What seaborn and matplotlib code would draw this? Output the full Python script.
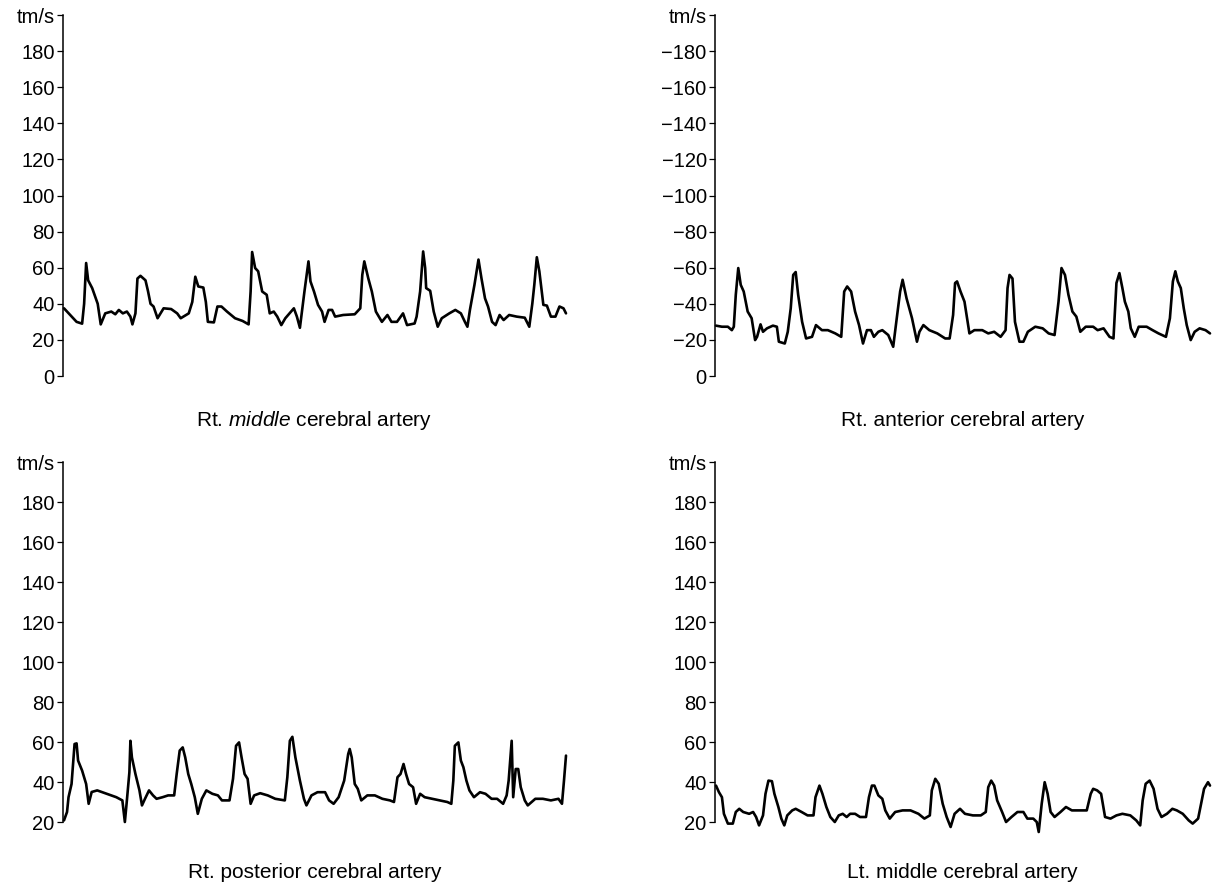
import matplotlib
matplotlib.use("Agg")
import matplotlib.pyplot as plt
import seaborn as sns

# Transcranial Doppler traces, time in % of sweep, velocity in cm/s
rt_mca_t = [0.2, 2.7, 3.8, 4.2, 4.6, 5.0, 5.8, 6.9, 7.5, 8.4,
            9.6, 10.4, 11.1, 11.9, 12.7, 13.4, 13.8, 14.4, 14.8, 15.4,
            16.4, 16.9, 17.4, 18.0, 18.8, 20.0, 21.5, 22.7, 23.4, 25.0,
            25.7, 26.3, 26.9, 27.9, 28.4, 28.8, 30.0, 30.7, 31.5, 32.6,
            34.2, 35.7, 36.9, 37.3, 37.6, 38.2, 38.8, 39.6, 40.5, 41.1,
            41.9, 42.6, 43.4, 44.2, 45.9, 46.5, 47.1, 48.0, 48.8, 49.2,
            49.9, 50.7, 51.5, 52.0, 52.8, 53.5, 54.1, 55.7, 58.0, 59.1,
            59.5, 59.9, 60.7, 61.4, 62.2, 63.4, 64.5, 65.3, 66.4, 67.6,
            68.4, 69.9, 70.3, 71.0, 71.6, 72.0, 72.2, 73.0, 73.7, 74.5,
            75.3, 76.8, 78.0, 79.1, 79.9, 80.4, 80.9, 81.8, 82.6, 83.2,
            83.9, 84.5, 85.3, 86.0, 86.8, 87.6, 88.7, 90.2, 91.8, 92.7,
            93.3, 93.7, 94.2, 94.7, 95.5, 96.2, 97.0, 97.9, 98.7, 99.5, 100.0]
rt_mca_v = [37.5, 30, 29, 40, 62.6, 53, 48.7, 40, 28.6, 34.7,
            35.7, 34.2, 36.6, 34.7, 35.7, 32.9, 28.6, 34.7, 54, 55.5,
            53, 47, 40, 38.5, 32, 37.5, 37.1, 34.7, 32, 34.7,
            41, 55, 49.6, 49, 41, 30, 29.7, 38.5, 38.5, 35.7,
            32, 30.5, 28.6, 46.8, 68.7, 59.8, 58, 46.8, 45, 34.7,
            35.7, 32.9, 28.2, 32, 37.5, 32.9, 26.7, 46.8, 63.5, 52.4,
            46.8, 39.4, 35.7, 30, 36.6, 36.6, 32.9, 33.8, 34.2, 37.5,
            56, 63.5, 54, 46.8, 35.7, 30, 33.8, 30, 30, 34.7,
            28.2, 29.1, 32.9, 46.8, 69, 59.8, 48.7, 47.2, 35.7, 27.3,
            32, 34.7, 36.6, 34.7, 30, 27.3, 36.6, 50.5, 64.5, 54,
            43, 38.5, 30, 28.2, 33.8, 31, 33.8, 32.9, 32.3, 27.3,
            40, 50.5, 65.8, 58, 39.4, 39, 32.9, 32.9, 38.5, 37.5, 34.7]

rt_aca_t = [0.2, 1.4, 2.6, 3.4, 3.8, 4.2, 4.7, 5.2, 5.8, 6.6,
            7.4, 8.1, 8.5, 9.2, 9.7, 10.5, 11.7, 12.5, 12.9, 14.1,
            14.7, 15.3, 15.8, 16.3, 16.8, 17.6, 18.4, 19.6, 20.4, 21.6,
            22.8, 24.3, 25.5, 26.1, 26.7, 27.5, 28.3, 29.1, 29.9, 30.7,
            31.5, 32.1, 33.0, 33.8, 35.0, 36.0, 36.8, 37.4, 37.9, 38.7,
            39.8, 40.8, 41.3, 42.1, 43.3, 44.9, 46.5, 47.4, 48.1, 48.5,
            48.9, 49.6, 50.4, 51.4, 52.4, 54.0, 55.2, 56.4, 57.7, 58.7,
            59.1, 59.5, 60.1, 60.6, 61.5, 62.3, 63.2, 64.7, 66.2, 67.4,
            68.6, 69.4, 70.0, 70.7, 71.4, 72.2, 73.0, 73.8, 74.9, 76.4,
            77.3, 78.5, 79.7, 80.5, 81.1, 81.7, 82.3, 82.8, 83.5, 84.0,
            84.8, 85.6, 87.2, 88.4, 89.6, 91.1, 91.9, 92.5, 93.0, 93.5,
            94.1, 94.7, 95.3, 96.1, 96.9, 97.9, 99.1, 100.0]
rt_aca_v = [-27.9, -27.3, -27.3, -25.4, -27.3, -45, -59.8, -50.5, -46.8, -35.7,
            -32, -19.9, -21.7, -28.6, -24.5, -26.4, -27.9, -27.3, -19, -18,
            -24.5, -37.5, -56, -57.6, -45, -30, -20.8, -21.7, -28.2, -25.4,
            -25.4, -23.6, -21.7, -46.8, -49.6, -46.8, -35.7, -28.2, -18, -25.4,
            -25.4, -21.7, -24.5, -25.4, -22.7, -16.2, -33.8, -46.8, -53.3, -43,
            -32, -19, -24.5, -28.2, -25.4, -23.6, -20.8, -20.8, -33.8, -51.5,
            -52.4, -46.8, -41.2, -23.6, -25.4, -25.4, -23.6, -24.5, -21.7, -25.4,
            -48.7, -56, -54, -30, -19, -19, -24.5, -27.3, -26.4, -23.6,
            -22.7, -41.2, -59.8, -56, -45, -35.7, -32.9, -24.5, -27.3, -27.3,
            -25.4, -26.4, -21.7, -20.8, -51.5, -57, -48.7, -41.2, -35.7, -26.4,
            -21.7, -27.3, -27.3, -25.4, -23.6, -21.7, -32, -52.4, -58, -52.4,
            -48.7, -37.5, -28.2, -19.9, -24.5, -26.4, -25.4, -23.6]

rt_pca_t = [0.2, 0.8, 1.1, 1.7, 2.3, 2.7, 3.0, 3.8, 4.6, 5.1,
            5.7, 6.8, 8.7, 10.6, 11.8, 12.3, 12.7, 13.2, 13.4, 13.7,
            14.4, 15.2, 15.7, 16.3, 17.1, 17.9, 18.6, 19.8, 20.9, 22.1,
            22.6, 23.2, 23.8, 24.3, 24.9, 25.5, 26.2, 26.8, 27.6, 28.5,
            29.7, 30.8, 31.6, 33.1, 33.8, 34.4, 35.0, 35.5, 36.1, 36.7,
            37.3, 38.0, 39.2, 40.7, 42.2, 44.1, 44.6, 45.1, 45.6, 46.2,
            47.1, 47.9, 48.4, 49.4, 50.6, 52.1, 52.9, 53.8, 54.8, 55.9,
            56.7, 57.0, 57.4, 58.0, 58.6, 59.3, 60.5, 62.0, 63.5, 65.0,
            65.8, 66.5, 67.1, 67.7, 68.2, 68.8, 69.6, 70.2, 71.0, 71.9,
            73.4, 74.9, 76.4, 77.2, 77.6, 77.9, 78.6, 79.1, 79.6, 80.2,
            80.8, 81.7, 82.9, 84.0, 85.2, 86.3, 87.5, 88.2, 88.6, 89.2,
            89.5, 90.0, 90.5, 91.0, 91.8, 92.4, 93.9, 95.4, 97.0, 98.5,
            99.2, 99.6, 100.0]
rt_pca_v = [20.8, 25, 32.4, 39, 59, 59.3, 50.7, 45.7, 39, 29.1,
            35, 35.8, 34.1, 32.4, 30.8, 20, 30.8, 44.9, 60.6, 52.3,
            44, 35.8, 28.3, 31.6, 35.8, 33.3, 31.6, 32.4, 33.3, 33.3,
            44, 55.7, 57.3, 52.3, 44, 39, 32.4, 24.1, 31.6, 35.8,
            34.1, 33.3, 30.8, 30.8, 41.6, 58.1, 59.8, 52.3, 44, 41.6,
            29.1, 33.3, 34.4, 33.3, 31.6, 30.8, 42.4, 60.6, 62.6, 52.3,
            40.7, 31.6, 28.3, 33.3, 34.9, 34.9, 30.8, 29.1, 32.4, 40.7,
            54, 56.5, 52.3, 39, 36.6, 30.8, 33.3, 33.3, 31.6, 30.8,
            30.0, 42.4, 44, 49, 44, 39, 37.4, 29.1, 34.1, 32.4,
            31.6, 30.8, 30.0, 29.1, 40.7, 58.1, 59.8, 50.7, 47.4, 40.7,
            35.8, 32.4, 34.9, 34.1, 31.6, 31.6, 29.1, 33.3, 40.7, 60.6,
            32.4, 46.5, 46.5, 37.4, 30.8, 28.3, 31.6, 31.6, 30.8, 31.6,
            29.1, 40.7, 53.2]

lt_mca_t = [0.2, 0.8, 1.4, 1.8, 2.6, 3.6, 4.2, 4.9, 5.7, 6.9,
            7.7, 8.3, 8.9, 9.7, 10.2, 10.8, 11.5, 12.0, 12.8, 13.4,
            14.0, 14.6, 15.6, 16.3, 17.5, 18.7, 19.9, 20.3, 21.1, 21.7,
            22.5, 23.3, 24.2, 25.0, 25.8, 26.6, 27.3, 28.3, 29.3, 30.5,
            31.1, 31.7, 32.2, 33.0, 33.8, 34.4, 35.3, 36.4, 37.9, 39.5,
            41.1, 42.3, 43.4, 43.8, 44.5, 45.2, 46.0, 46.8, 47.6, 48.4,
            49.5, 50.5, 52.1, 53.7, 54.7, 55.2, 55.8, 56.4, 57.0, 58.0,
            58.8, 59.9, 61.1, 62.3, 63.1, 64.3, 65.0, 65.4, 66.0, 66.6,
            67.2, 67.8, 68.6, 69.8, 70.9, 72.1, 73.7, 75.1, 75.9, 76.4,
            77.2, 78.0, 78.8, 79.9, 81.1, 82.3, 83.9, 85.1, 85.9, 86.4,
            87.0, 87.8, 88.6, 89.4, 90.2, 91.3, 92.4, 93.3, 94.5, 95.7,
            96.5, 97.6, 98.2, 98.8, 99.6, 100.0]
lt_mca_v = [38.2, 34.9, 32.4, 24.1, 19.2, 19.2, 25, 26.6, 25, 24.1,
            25, 22.5, 18.3, 23.3, 34.1, 40.7, 40.4, 34.1, 27.5, 21.7,
            18.3, 23.3, 25.8, 26.6, 25, 23.3, 23.3, 32.4, 38.2, 34.1,
            27.5, 22.5, 20, 23.3, 24.1, 22.5, 24.1, 24.1, 22.5, 22.5,
            32.4, 38.2, 38.2, 33.3, 31.6, 25.8, 21.7, 25, 25.8, 25.8,
            24.1, 21.7, 23.3, 35.8, 41.6, 39.1, 29.1, 22.5, 17.5, 24.1,
            26.6, 24.1, 23.3, 23.3, 25, 37.4, 40.7, 38.2, 30.8, 25,
            20, 22.5, 25, 25, 21.7, 21.7, 20, 15, 29.1, 39.9,
            34.1, 25, 22.5, 25, 27.5, 25.8, 25.8, 25.8, 34.1, 36.6,
            35.8, 34.1, 22.5, 21.7, 23.3, 24.1, 23.3, 20.8, 18.3, 30.8,
            39.1, 40.7, 36.6, 26.6, 22.5, 24.1, 26.6, 25.8, 24.1, 20.8,
            19.2, 21.7, 29.1, 36.6, 39.9, 38.2]

titles = ["Rt. $\\it{middle}$ cerebral artery", "Rt. anterior cerebral artery",
          "Rt. posterior cerebral artery", "Lt. middle cerebral artery"]
top_ticks = [0, 20, 40, 60, 80, 100, 120, 140, 160, 180, 200]
bottom_ticks = [20, 40, 60, 80, 100, 120, 140, 160, 180, 200]

sns.set_style("ticks")
plt.rcParams['font.family'] = ['Liberation Sans', 'DejaVu Sans']
plt.rcParams['mathtext.fontset'] = 'custom'
plt.rcParams['mathtext.rm'] = 'Liberation Sans'
plt.rcParams['mathtext.it'] = 'Liberation Sans:italic'
plt.rcParams['text.color'] = 'black'

W, H = 1213, 886
fig = plt.figure(figsize=(W / 100, H / 100), dpi=100)

# pixel boxes (left, top, right, bottom) -> figure fractions
boxes = [(63, 15, 566, 376), (715, 15, 1210, 376),
         (63, 462, 566, 822), (715, 462, 1210, 822)]
panels = [(rt_mca_t, rt_mca_v), (rt_aca_t, rt_aca_v),
          (rt_pca_t, rt_pca_v), (lt_mca_t, lt_mca_v)]

for i, ((l, t, r, b), (xs, ys)) in enumerate(zip(boxes, panels)):
    ax = fig.add_axes([l / W, 1 - b / H, (r - l) / W, (b - t) / H])
    sns.lineplot(x=xs, y=ys, ax=ax, color='black', linewidth=1.9, estimator=None)
    ax.lines[-1].set_clip_on(False)
    ax.set_xlim(0, 100)

    if i == 1:
        ticks = [-v for v in top_ticks]
        labels = ['0'] + ['\u2212%d' % v for v in top_ticks[1:-1]] + ['tm/s']
        ax.set_ylim(0, -200)
    elif i == 0:
        ticks = top_ticks
        labels = [str(v) for v in top_ticks[:-1]] + ['tm/s']
        ax.set_ylim(0, 200)
    else:
        ticks = bottom_ticks
        labels = [str(v) for v in bottom_ticks[:-1]] + ['tm/s']
        ax.set_ylim(20, 200)
    ax.set_yticks(ticks)
    ax.set_yticklabels(labels, fontsize=14.5)
    ax.set_xticks([])
    ax.tick_params(axis='y', length=4, width=0.9, pad=2, colors='black')
    for side in ['top', 'right', 'bottom']:
        ax.spines[side].set_visible(False)
    ax.spines['left'].set_linewidth(1.1)
    ax.spines['left'].set_color('black')
    ax.set_xlabel('')
    ax.set_ylabel('')

    off = -44 if i < 2 else -51
    ax.annotate(titles[i], xy=(0.5, 0), xycoords='axes fraction',
                xytext=(0, off), textcoords='offset pixels',
                ha='center', va='center', fontsize=15, color='black')

fig.savefig('out.png', dpi=100)
